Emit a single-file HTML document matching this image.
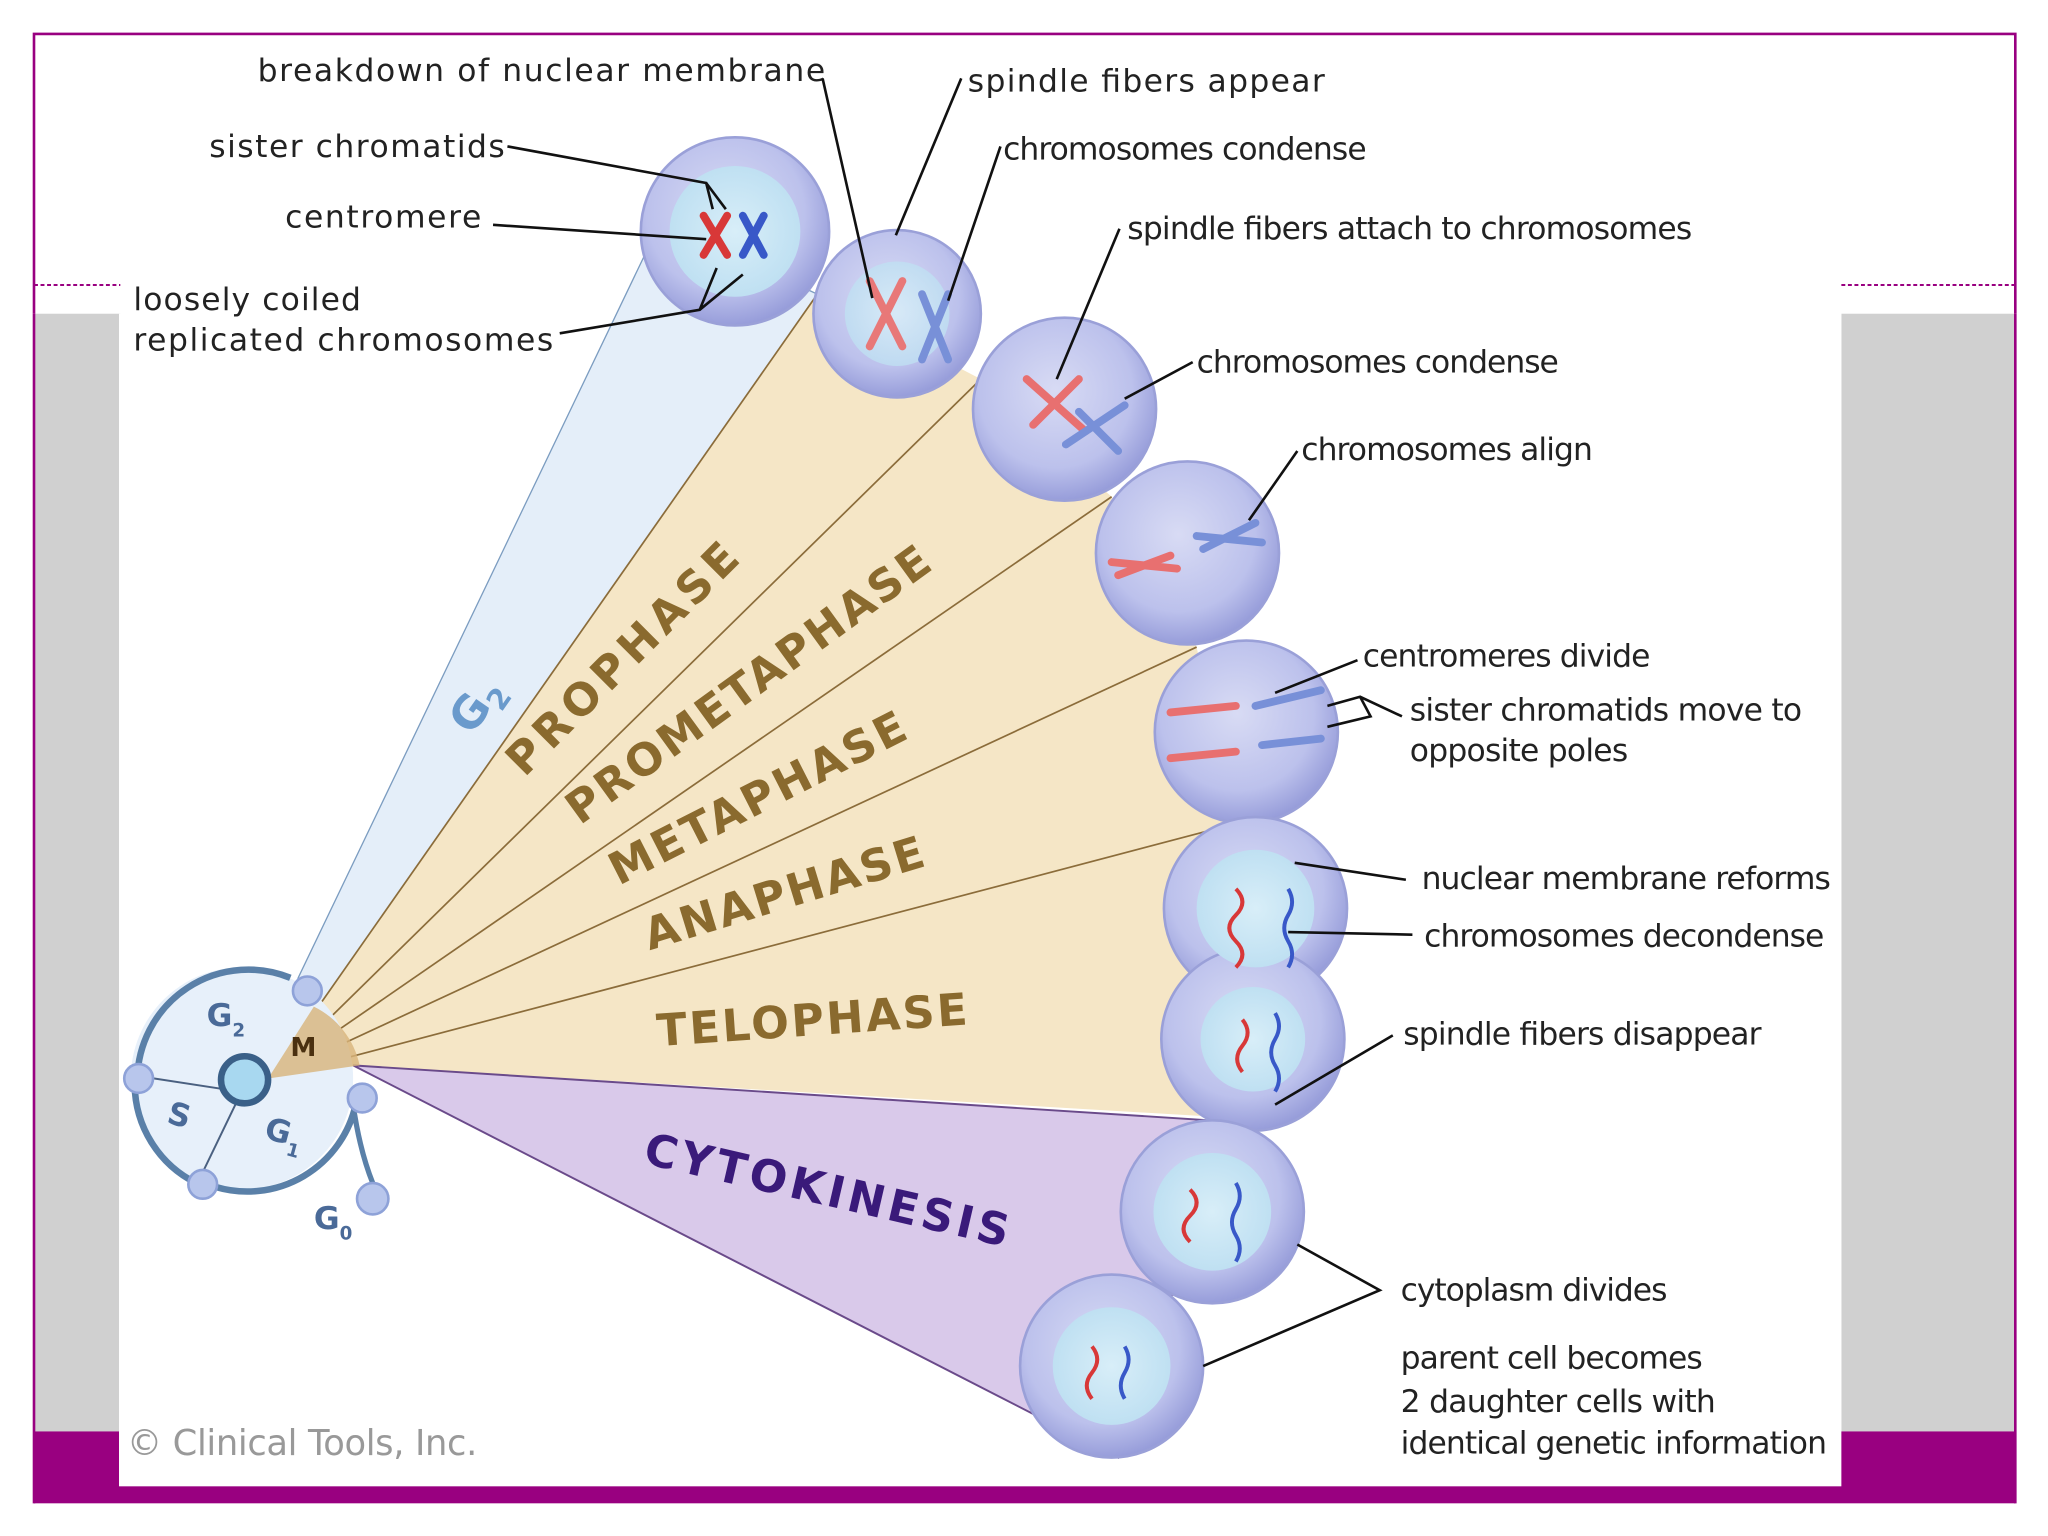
<!DOCTYPE html>
<html><head><meta charset="utf-8"><style>
html,body{margin:0;padding:0;background:#fff;}
svg{display:block}
text{font-family:"DejaVu Sans","Liberation Sans",sans-serif;}
</style></head><body>
<svg width="2048" height="1536" viewBox="0 0 1566 1175" preserveAspectRatio="none" xmlns="http://www.w3.org/2000/svg">
<defs>
<radialGradient id="cell" cx="45%" cy="40%" r="60%">
<stop offset="0" stop-color="#d8dbf4"/><stop offset="0.7" stop-color="#bcc1ec"/><stop offset="1" stop-color="#979dda"/>
</radialGradient>
<radialGradient id="nuc" cx="50%" cy="50%" r="50%">
<stop offset="0" stop-color="#d8eef8"/><stop offset="1" stop-color="#bfe0f2"/>
</radialGradient>
</defs>
<rect width="1566" height="1175" fill="#fff"/>
<!-- frame -->
<rect x="26" y="240" width="66" height="855" fill="#d0d0d0"/>
<rect x="1408" y="240" width="133" height="855" fill="#d0d0d0"/>
<rect x="26" y="1095" width="1515" height="55" fill="#990080"/>
<rect x="91" y="240" width="1317" height="897" fill="#fff"/>
<path d="M26 240 V26 H1541 V240" fill="none" stroke="#990080" stroke-width="2"/>
<line x1="26" y1="240" x2="26" y2="1150" stroke="#990080" stroke-width="2"/>
<line x1="1541" y1="240" x2="1541" y2="1150" stroke="#990080" stroke-width="2"/>
<line x1="26" y1="218" x2="92" y2="218" stroke="#990080" stroke-width="1.5" stroke-dasharray="3,2"/>
<line x1="1408" y1="218" x2="1541" y2="218" stroke="#990080" stroke-width="1.5" stroke-dasharray="3,2"/>

<!-- wedges -->
<polygon points="228,748 505,170 625,225 205,825" fill="#e4eef9" stroke="#7b9cc0" stroke-width="1"/>
<polygon points="205,825 625,225 750,290 850,380 915,495 945,630 940,855 270,815" fill="#f5e6c6"/>
<g stroke="#8b6c3a" stroke-width="1.3">
<line x1="205" y1="825" x2="625" y2="225"/><line x1="205" y1="825" x2="750" y2="290"/>
<line x1="205" y1="825" x2="850" y2="380"/><line x1="205" y1="825" x2="915" y2="495"/>
<line x1="205" y1="825" x2="945" y2="630"/>
</g>
<polygon points="270,815 940,858 855,1115" fill="#d9c9ea" stroke="#6a4a8a" stroke-width="1.5"/>

<!-- cell cycle -->
<circle cx="185" cy="825" r="85" fill="#e7f0fa"/>
<path d="M105 825 A85 85 0 0 1 222 748" fill="none" stroke="#5a80a8" stroke-width="5"/>
<path d="M150 905 A85 85 0 0 1 103 830" fill="none" stroke="#5a80a8" stroke-width="5"/>
<path d="M272 845 A85 85 0 0 1 165 908" fill="none" stroke="#5a80a8" stroke-width="5"/>
<path d="M270 845 Q275 880 285 905" fill="none" stroke="#5a80a8" stroke-width="4"/>
<line x1="105" y1="823" x2="170" y2="833" stroke="#4a6080" stroke-width="1.5"/>
<line x1="152" y1="903" x2="180" y2="845" stroke="#4a6080" stroke-width="1.5"/>
<path d="M205 825 L240 770 A65 65 0 0 1 275 815 Z" fill="#d8b47a" opacity="0.8"/>
<circle cx="187" cy="826" r="18" fill="#a8d8f0" stroke="#3a6088" stroke-width="5"/>
<g fill="#b8c6ec" stroke="#8ea2d8" stroke-width="2">
<circle cx="235" cy="758" r="11"/><circle cx="106" cy="825" r="11"/><circle cx="155" cy="906" r="11"/><circle cx="277" cy="840" r="11"/><circle cx="285" cy="917" r="12"/>
</g>
<g fill="#4a6a98" font-weight="bold" font-size="24">
<text x="158" y="785">G<tspan font-size="14" dy="8">2</tspan></text>
<text x="128" y="862" transform="rotate(15 140 855)">S</text>
<text x="203" y="874" transform="rotate(15 215 865)">G<tspan font-size="14" dy="8">1</tspan></text>
<text x="240" y="940">G<tspan font-size="14" dy="8">0</tspan></text>
</g>
<text x="222" y="808" font-size="20" font-weight="bold" fill="#4a3010">M</text>

<!-- cells -->
<g stroke="#9aa0d8" stroke-width="2" fill="url(#cell)">
<circle cx="562" cy="177" r="72"/>
<circle cx="686" cy="240" r="64"/>
<circle cx="814" cy="313" r="70"/>
<circle cx="908" cy="423" r="70"/>
<circle cx="953" cy="560" r="70"/>
<circle cx="960" cy="695" r="70"/>
<circle cx="958" cy="795" r="70"/>
<circle cx="927" cy="927" r="70"/>
<circle cx="850" cy="1045" r="70"/>
</g>
<g fill="url(#nuc)">
<circle cx="562" cy="177" r="50"/>
<circle cx="686" cy="240" r="40" opacity="0.8"/>
<circle cx="960" cy="695" r="45"/>
<circle cx="958" cy="795" r="40"/>
<circle cx="927" cy="927" r="45"/>
<circle cx="850" cy="1045" r="45"/>
</g>
<!-- chromosomes -->
<g stroke-width="6" fill="none" stroke-linecap="round">
<path d="M538 165 L556 195 M556 165 L538 195" stroke="#d83838"/>
<path d="M568 165 L584 195 M584 165 L568 195" stroke="#3858c8"/>
<path d="M665 215 L690 265 M690 215 L665 265" stroke="#e87878"/>
<path d="M705 225 L725 275 M725 225 L705 275" stroke="#7890d8"/>
<path d="M785 290 L830 330 M790 325 L825 290" stroke="#e87070"/>
<path d="M815 340 L860 310 M825 315 L855 345" stroke="#7890d8"/>
<path d="M850 430 L900 435 M855 440 L895 425" stroke="#e87070"/>
<path d="M915 410 L965 415 M920 420 L960 400" stroke="#7890d8"/>
<path d="M895 545 L945 540 M895 580 L945 575" stroke="#e87070"/>
<path d="M960 540 L1010 528 M965 570 L1010 565" stroke="#7890d8"/>
</g>
<g stroke-width="3" fill="none">
<path d="M945 680 q10 10 0 20 q-10 10 0 20 q10 10 0 20" stroke="#d83838"/>
<path d="M985 680 q6 10 0 20 q-6 10 0 20 q6 10 0 20" stroke="#3858c8"/>
<path d="M950 780 q8 10 0 20 q-8 10 0 20" stroke="#d83838"/>
<path d="M975 775 q6 10 0 20 q-6 10 0 20 q6 10 0 20" stroke="#3858c8"/>
<path d="M910 910 q10 10 0 20 q-10 10 0 20" stroke="#d83838"/>
<path d="M945 905 q6 10 0 20 q-6 10 0 20 q6 10 0 20" stroke="#3858c8"/>
<path d="M835 1030 q8 10 0 20 q-8 10 0 20" stroke="#d83838"/>
<path d="M860 1030 q6 10 0 20 q-6 10 0 20" stroke="#3858c8"/>
</g>

<!-- phase labels -->
<g font-weight="bold" font-size="34" fill="#8a6a2e">
<text x="477" y="515" text-anchor="middle" textLength="235" transform="rotate(-45 477 505)">PROPHASE</text>
<text x="573" y="535" text-anchor="middle" textLength="335" transform="rotate(-36 573 525)">PROMETAPHASE</text>
<text x="580" y="622" text-anchor="middle" textLength="250" transform="rotate(-27 580 612)">METAPHASE</text>
<text x="600" y="695" text-anchor="middle" textLength="222" transform="rotate(-17 600 685)">ANAPHASE</text>
<text x="621" y="792" text-anchor="middle" textLength="238" transform="rotate(-4 621 782)">TELOPHASE</text>
</g>
<text x="632" y="922" text-anchor="middle" font-weight="bold" font-size="34" textLength="285" fill="#3a1a7a" transform="rotate(13 632 912)">CYTOKINESIS</text>
<text x="365" y="550" text-anchor="middle" font-weight="bold" font-size="34" fill="#6a9acc" transform="rotate(-55 365 540)">G<tspan font-size="22" dy="8">2</tspan></text>

<!-- labels -->
<g font-size="24" fill="#222" lengthAdjust="spacingAndGlyphs">
<text x="197" y="62" textLength="434">breakdown of nuclear membrane</text>
<text x="740" y="70" textLength="273">spindle fibers appear</text>
<text x="160" y="120" textLength="226">sister chromatids</text>
<text x="767" y="122" textLength="278">chromosomes condense</text>
<text x="218" y="174" textLength="150">centromere</text>
<text x="862" y="183" textLength="432">spindle fibers attach to chromosomes</text>
<text x="102" y="237" textLength="174">loosely coiled</text>
<text x="102" y="268" textLength="321">replicated chromosomes</text>
<text x="915" y="285" textLength="277">chromosomes condense</text>
<text x="995" y="352" textLength="223">chromosomes align</text>
<text x="1042" y="510" textLength="220">centromeres divide</text>
<text x="1078" y="551" textLength="300">sister chromatids move to</text>
<text x="1078" y="582" textLength="167">opposite poles</text>
<text x="1087" y="680" textLength="313">nuclear membrane reforms</text>
<text x="1089" y="724" textLength="306">chromosomes decondense</text>
<text x="1073" y="799" textLength="274">spindle fibers disappear</text>
<text x="1071" y="995" textLength="204">cytoplasm divides</text>
<text x="1071" y="1047" textLength="231">parent cell becomes</text>
<text x="1071" y="1080" textLength="241">2 daughter cells with</text>
<text x="1071" y="1112" textLength="326">identical genetic information</text>
</g>
<text x="97" y="1113" font-family="Liberation Sans, sans-serif" font-size="27" textLength="268" fill="#999">© Clinical Tools, Inc.</text>
<!-- leader lines -->
<g stroke="#111" stroke-width="2" fill="none">
<path d="M629 60 L667 228"/>
<path d="M735 60 L685 180"/>
<path d="M765 112 L725 230"/>
<path d="M388 112 L540 140 L545 160 M540 140 L555 160"/>
<path d="M377 172 L540 183"/>
<path d="M428 255 L535 237 L548 205 M535 237 L568 210"/>
<path d="M856 175 L808 290"/>
<path d="M912 277 L860 305"/>
<path d="M992 345 L955 398"/>
<path d="M1038 505 L975 530"/>
<path d="M1072 548 L1040 533 L1015 540 M1040 533 L1048 548 L1015 556"/>
<path d="M1075 673 L990 660"/>
<path d="M1080 715 L985 713"/>
<path d="M1065 792 L975 845"/>
<path d="M992 952 L1055 987 L920 1045"/>
</g>
</svg>
</body></html>
